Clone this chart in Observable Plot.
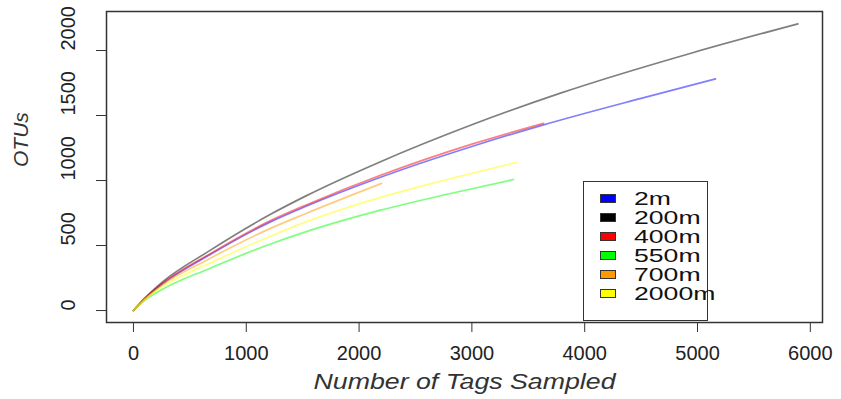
<!DOCTYPE html>
<html><head><meta charset="utf-8">
<script src="https://cdn.jsdelivr.net/npm/d3@7"></script>
<script src="https://cdn.jsdelivr.net/npm/@observablehq/plot@0.6"></script>
<style>
body{margin:0;background:#fff;}
#wrap{position:relative;width:841px;height:399px;overflow:hidden;}
#legend{position:absolute;left:583px;top:181px;width:125px;height:140px;border:1.5px solid #333;box-sizing:border-box;font-family:"Liberation Sans",Arial,sans-serif;font-size:19px;color:#111;background:#fff;}
.sw{position:absolute;left:16px;width:14px;height:7px;border:1px solid #333;}
.lab{position:absolute;left:50px;height:17px;line-height:17px;white-space:nowrap;display:inline-block;transform:scaleX(1.4);transform-origin:left center;}
</style>
</head><body>
<div id="wrap"></div>
<script>
const series = ["2m", "200m", "400m", "550m", "700m", "2000m"];
const legendColors = ["#0000ff", "#000000", "#ff0000", "#00ff00", "#ff9900", "#ffff00"];
const xTicks = [0, 1000, 2000, 3000, 4000, 5000, 6000];
const yTicks = [0, 500, 1000, 1500, 2000];
const xTitle = "Number of Tags Sampled";
const yTitle = "OTUs";

const x2m    = [0, 100, 250, 665, 1215, 1525, 2190, 3000, 3635, 4500, 5160];
const y2m    = [0, 90, 200, 423, 682, 800, 1025, 1262, 1428, 1632, 1782];
const x200m  = [0, 100, 250, 665, 1215, 1525, 2190, 2988, 3785, 4965, 5890];
const y200m  = [0, 95, 215, 455, 740, 880, 1145, 1425, 1672, 1985, 2205];
const x400m  = [0, 100, 250, 665, 1215, 1525, 2190, 3000, 3635];
const y400m  = [0, 92, 205, 430, 692, 810, 1040, 1280, 1440];
const x550m  = [0, 100, 250, 665, 1215, 1525, 2190, 2800, 3370];
const y550m  = [0, 78, 160, 320, 512, 605, 772, 898, 1008];
const x700m  = [0, 100, 250, 665, 1215, 1525, 2200];
const y700m  = [0, 88, 192, 395, 632, 745, 978];
const x2000m = [0, 100, 250, 665, 1215, 1525, 2190, 2800, 3400];
const y2000m = [0, 85, 180, 360, 572, 680, 870, 1012, 1140];

const xs = [x2m, x200m, x400m, x550m, x700m, x2000m];
const ys = [y2m, y200m, y400m, y550m, y700m, y2000m];
const rows = [];
series.forEach((s, i) => xs[i].forEach((x, j) => rows.push({series: s, x, y: ys[i][j]})));

const font = "Liberation Sans, Arial, Helvetica, sans-serif";
const chart = Plot.plot({
  width: 841, height: 399,
  marginLeft: 106, marginRight: 19, marginTop: 11, marginBottom: 77,
  x: {domain: [-239, 6108]},
  y: {domain: [-92, 2300]},
  color: {domain: series, range: legendColors},
  style: {fontFamily: font, fontSize: "20px", color: "#222", background: "white", overflow: "visible"},
  marks: [
    Plot.line(rows, {x: "x", y: "y", z: "series", stroke: "series", strokeOpacity: 0.5, strokeWidth: 1.7, curve: "monotone-x"}),
    Plot.frame({stroke: "#333", strokeWidth: 1.5}),
    Plot.axisX({ticks: xTicks, tickFormat: d3.format("d"), tickSize: 10, tickPadding: 13, fontSize: 20, label: null, stroke: "#333"}),
    Plot.axisY({ticks: yTicks, tickSize: 10, tickFormat: () => "", label: null, stroke: "#333"}),
    Plot.text(yTicks, {y: d => d, text: d => String(d), frameAnchor: "left", dx: -38, rotate: -90, fontSize: 20, fill: "#222"}),
    Plot.text([xTitle], {text: d => d, frameAnchor: "bottom", dy: 66, fontSize: 22, fontStyle: "italic", fill: "#333"}),
    Plot.text([yTitle], {text: d => d, frameAnchor: "left", dx: -85, rotate: -90, fontSize: 21, fontStyle: "italic", fill: "#333"})
  ]
});
chart.querySelectorAll("text").forEach(t => {
  if (t.textContent === xTitle) {
    t.setAttribute("textLength", 302);
    t.setAttribute("lengthAdjust", "spacingAndGlyphs");
  }
});
const wrap = document.getElementById("wrap");
wrap.appendChild(chart);
const leg = document.createElement("div");
leg.id = "legend";
series.forEach((s, i) => {
  const c = 16.5 + i * 18.9;
  const sw = document.createElement("span");
  sw.className = "sw";
  sw.style.top = (c - 4.5) + "px";
  sw.style.background = legendColors[i];
  const lab = document.createElement("span");
  lab.className = "lab";
  lab.style.top = (c - 8.5) + "px";
  lab.textContent = s;
  leg.appendChild(sw);
  leg.appendChild(lab);
});
wrap.appendChild(leg);
</script>
</body></html>
